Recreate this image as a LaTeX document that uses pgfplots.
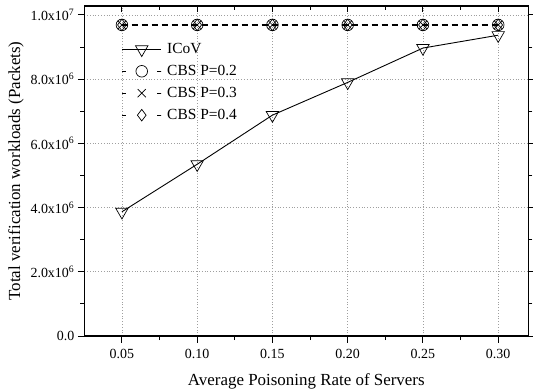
\documentclass[border=0pt]{standalone}
\usepackage{pgfplots}
\pgfplotsset{compat=1.18}
\usepackage{fontspec}
\setmainfont{Liberation Serif}
\begin{document}
\begin{tikzpicture}
\useasboundingbox (-84.3bp,-56bp) rectangle (448.7bp,336bp);
\begin{axis}[
  scale only axis, width=444bp, height=330bp,
  xmin=0.025, xmax=0.32, ymin=0, ymax=1.028e7,
  axis line style={line width=1.1pt},
  tick style={line width=1pt, black},
  tick align=outside,
  major tick length=6.5bp, minor tick length=4bp,
  xtick={0.05,0.10,0.15,0.20,0.25,0.30},
  xticklabels={0.05,0.10,0.15,0.20,0.25,0.30},
  minor xtick={0.075,0.125,0.175,0.225,0.275},
  ytick={0,2e6,4e6,6e6,8e6,1e7},
  yticklabels={0.0,{2.0x10\textsuperscript{6}},{4.0x10\textsuperscript{6}},{6.0x10\textsuperscript{6}},{8.0x10\textsuperscript{6}},{1.0x10\textsuperscript{7}}},
  minor ytick={1e6,3e6,5e6,7e6,9e6},
  xtick pos=left, ytick pos=both,
  scaled y ticks=false,
  grid=major,
  major grid style={dash pattern=on 0.8bp off 2bp, line width=0.7bp, gray!75},
  ticklabel style={font=\fontsize{14}{16}\selectfont},
  xticklabel style={yshift=-3bp},
  xlabel={Average Poisoning Rate of Servers},
  xlabel style={yshift=-8bp},
  ylabel={Total verification workloads (Packets)},
  label style={font=\fontsize{17}{19}\selectfont},
  legend cell align=left,
  legend style={draw=none, fill=none, at={(0.084,0.893)}, anchor=north west, inner sep=0pt,
    font=\fontsize{15.5}{18}\selectfont, row sep=6.2bp},
]
\addplot[black, line width=0.9pt, mark=triangle, mark size=7.2bp, mark options={rotate=180, fill=white, solid, line width=0.7pt},
  legend image code/.code={\path[draw=none] (0bp,0bp) -- (43bp,0bp); \draw[mark repeat=2,mark phase=2] plot coordinates {(0bp,0bp)(19.5bp,0bp)(39bp,0bp)};}]
  coordinates {(0.05,3.87e6) (0.10,5.35e6) (0.15,6.88e6) (0.20,7.90e6) (0.25,8.97e6) (0.30,9.37e6)};
\addlegendentry{ICoV}
\addplot[black, line width=2.6bp, dash pattern=on 6bp off 4bp, mark=o, mark size=5.8bp, mark options={solid, line width=0.7pt},
  legend image code/.code={\path[draw=none] (0bp,0bp) -- (43bp,0bp); \draw[line width=0.8pt, dash pattern=on 4bp off 31bp on 4bp off 0bp] (0bp,0bp) -- (39bp,0bp); \draw[line width=0.7pt] plot[mark=o, mark size=5.8bp] coordinates {(19.5bp,0bp)};}]
  coordinates {(0.05,9.69e6) (0.10,9.69e6) (0.15,9.69e6) (0.20,9.69e6) (0.25,9.69e6) (0.30,9.69e6)};
\addlegendentry{CBS P=0.2}
\addplot[black, line width=2.6bp, dash pattern=on 6bp off 4bp, mark=x, mark size=5.8bp, mark options={solid, line width=0.7pt},
  legend image code/.code={\path[draw=none] (0bp,0bp) -- (43bp,0bp); \draw[line width=0.8pt, dash pattern=on 4bp off 31bp on 4bp off 0bp] (0bp,0bp) -- (39bp,0bp); \draw[line width=0.7pt] plot[mark=x, mark size=5.8bp] coordinates {(19.5bp,0bp)};}]
  coordinates {(0.05,9.69e6) (0.10,9.69e6) (0.15,9.69e6) (0.20,9.69e6) (0.25,9.69e6) (0.30,9.69e6)};
\addlegendentry{CBS P=0.3}
\addplot[black, line width=2.6bp, dash pattern=on 6bp off 4bp, mark=diamond, mark size=5.8bp, mark options={solid, line width=0.7pt},
  legend image code/.code={\path[draw=none] (0bp,0bp) -- (43bp,0bp); \draw[line width=0.8pt, dash pattern=on 4bp off 31bp on 4bp off 0bp] (0bp,0bp) -- (39bp,0bp); \draw[line width=0.7pt] plot[mark=diamond, mark size=5.8bp] coordinates {(19.5bp,0bp)};}]
  coordinates {(0.05,9.69e6) (0.10,9.69e6) (0.15,9.69e6) (0.20,9.69e6) (0.25,9.69e6) (0.30,9.69e6)};
\addlegendentry{CBS P=0.4}
\end{axis}
\begin{axis}[
  scale only axis, width=444bp, height=330bp,
  xmin=0.025, xmax=0.32, ymin=0, ymax=1.028e7,
  axis line style={draw=none},
  tick style={line width=1pt, black},
  tick align=inside,
  major tick length=6.5bp, minor tick length=4bp,
  xtick={0.05,0.10,0.15,0.20,0.25,0.30},
  minor xtick={0.075,0.125,0.175,0.225,0.275},
  xticklabels={}, ytick=\empty,
  xtick pos=right,
]
\end{axis}
\end{tikzpicture}
\end{document}
